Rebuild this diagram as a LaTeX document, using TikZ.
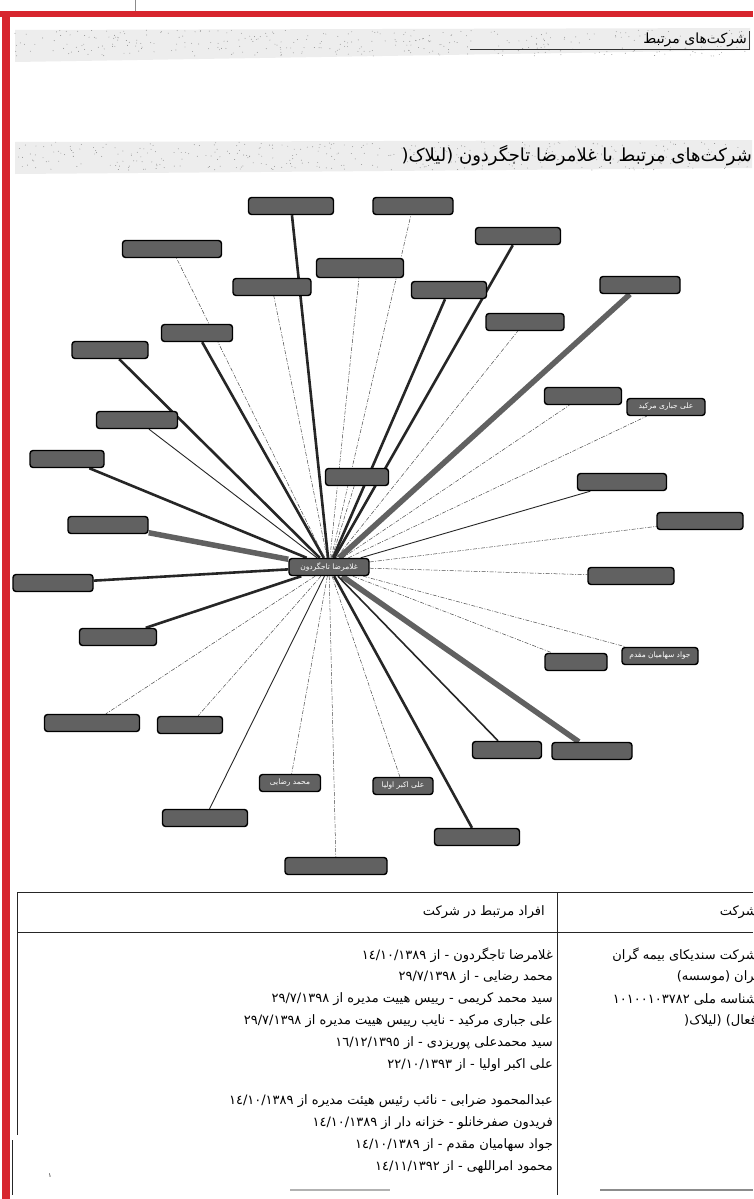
\documentclass[tikz,border=0pt]{standalone}
\usepackage{fontspec}
\newfontfamily\arabicfont[Script=Arabic]{DejaVu Sans}
\TeXXeTstate=1
\usetikzlibrary{backgrounds}
\definecolor{framered}{HTML}{D7262E}
\tikzset{
  person/.style={draw=black,line width=1.4pt,fill=black!62,rounded corners=3pt,
    minimum height=17pt,inner sep=1pt,text=white,
    font=\arabicfont\fontsize{7.5}{9}\selectfont},
  heavy/.style={line width=2.6pt,black!85},
  smudge/.style={line width=5.5pt,black!62},
  faint/.style={line width=0.5pt,black!70,dash pattern=on 4pt off 1.5pt on 1pt off 1.5pt},
  plain/.style={line width=0.9pt,black!85},
  rowtext/.style={anchor=east,inner sep=0pt,font=\arabicfont\fontsize{13}{15}\selectfont},
  headtext/.style={anchor=east,inner sep=0pt,font=\arabicfont\fontsize{14}{16}\selectfont},
  rule/.style={line width=1pt,black!85},
}
\begin{document}
\begin{tikzpicture}[x=1pt,y=-1pt]
\useasboundingbox (0,0) rectangle (753,1199);

% frame of the page
\draw[black!45,line width=1pt] (135,0) -- (135,12);
\fill[framered] (0,11) rectangle (753,17);
\fill[framered] (2,11) rectangle (10,1199);

% scanned headings
\fill[black!7] (15,30) -- (750,28) -- (750,50) -- (15,62) -- cycle;
\fill[black!7] (15,142) -- (752,140) -- (752,168) -- (15,174) -- cycle;
\pgfmathsetseed{7}
\foreach \i in {1,...,350}{
  \fill[black!45] ({15+735*rnd},{30+26*rnd}) circle (0.45pt);
  \fill[black!45] ({15+735*rnd},{142+28*rnd}) circle (0.45pt);
}
\draw[black!80,line width=0.8pt] (470,49) -- (749,49) -- (749,31);
\node[headtext] (head1) at (747,40) {\beginR شرکت‌های مرتبط\endR};
\node[headtext,font=\arabicfont\fontsize{18}{20}\selectfont] (head2) at (752,156)
  {\beginR شرکت‌های مرتبط با غلامرضا تاجگردون (لیلاک(\endR};

% graph
\node[person,minimum width=80pt] (c) at (329,567) {\beginR غلامرضا تاجگردون\endR};
\node[person,minimum width=85pt] (n1) at (291,206) {};
\node[person,minimum width=80pt] (n2) at (413,206) {};
\node[person,minimum width=99pt] (nA) at (172,249) {};
\node[person,minimum width=78pt] (nB) at (272,287) {};
\node[person,minimum width=87pt,minimum height=19pt] (nC) at (360,268) {};
\node[person,minimum width=75pt] (nD) at (449,290) {};
\node[person,minimum width=85pt] (nE) at (518,236) {};
\node[person,minimum width=78pt] (nF) at (525,322) {};
\node[person,minimum width=80pt] (nP) at (640,285) {};
\node[person,minimum width=76pt] (nG) at (110,350) {};
\node[person,minimum width=71pt] (nH) at (197,333) {};
\node[person,minimum width=81pt] (nI) at (137,420) {};
\node[person,minimum width=74pt] (nJ) at (67,459) {};
\node[person,minimum width=80pt] (nK) at (108,525) {};
\node[person,minimum width=80pt] (nL) at (53,583) {};
\node[person,minimum width=77pt] (nM) at (118,637) {};
\node[person,minimum width=63pt] (nN) at (357,477) {};
\node[person,minimum width=77pt] (nQ) at (583,396) {};
\node[person,minimum width=78pt] (nR) at (666,407) {\beginR علی جباری مرکید\endR};
\node[person,minimum width=89pt] (nS) at (622,482) {};
\node[person,minimum width=86pt] (nT) at (700,521) {};
\node[person,minimum width=86pt] (nU) at (631,576) {};
\node[person,minimum width=76pt] (nV) at (660,656) {\beginR جواد سهامیان مقدم\endR};
\node[person,minimum width=62pt] (nW) at (576,662) {};
\node[person,minimum width=69pt] (nX) at (507,750) {};
\node[person,minimum width=80pt] (nY) at (592,751) {};
\node[person,minimum width=60pt] (nZ) at (403,786) {\beginR علی اکبر اولیا\endR};
\node[person,minimum width=85pt] (nAA) at (477,837) {};
\node[person,minimum width=61pt] (nAB) at (290,783) {\beginR محمد رضایی\endR};
\node[person,minimum width=85pt] (nAC) at (205,818) {};
\node[person,minimum width=102pt] (nAD) at (336,866) {};
\node[person,minimum width=95pt] (nAE) at (92,723) {};
\node[person,minimum width=65pt] (nAF) at (190,725) {};

\begin{scope}[on background layer]
\fill[white] (0,0) rectangle (753,1199);
\foreach \n in {n1,nD,nE,nG,nH,nJ,nL,nM,nAA}
  \draw[heavy] (c) -- (\n);
\foreach \n in {nK,nP,nY}
  \draw[smudge] (c) -- (\n);
\foreach \n in {nI,nS,nAC}
  \draw[plain] (c) -- (\n);
\draw[plain,line width=1.6pt] (c) -- (nX);
\foreach \n in {n2,nA,nB,nC,nF,nN,nQ,nR,nT,nU,nV,nW,nZ,nAB,nAD,nAE,nAF}
  \draw[faint] (c) -- (\n);
\end{scope}

% table
\draw[rule] (17,892) -- (753,892);
\draw[rule] (17,932) -- (753,932);
\draw[rule] (17,892) -- (17,1135);
\draw[rule] (12,1140) -- (12,1195);
\draw[rule] (557,892) -- (557,1195);
\draw[black!30,line width=2pt] (290,1190) -- (390,1190);
\draw[black!45,line width=2pt] (600,1190) -- (753,1190);

\node[rowtext] (h1) at (545,912) {\beginR افراد مرتبط در شرکت\endR};
\node[rowtext] (h2) at (757,912) {\beginR شرکت\endR};

\node[rowtext] (p1) at (553,955) {\beginR غلامرضا تاجگردون - از \beginL ١٤/١٠/١٣٨٩\endL{}\endR};
\node[rowtext] (p2) at (553,977) {\beginR محمد رضایی - از \beginL ٢٩/٧/١٣٩٨\endL{}\endR};
\node[rowtext] (p3) at (553,999) {\beginR سید محمد کریمی - رییس هییت مدیره از \beginL ٢٩/٧/١٣٩٨\endL{}\endR};
\node[rowtext] (p4) at (553,1021) {\beginR علی جباری مرکید - نایب رییس هییت مدیره از \beginL ٢٩/٧/١٣٩٨\endL{}\endR};
\node[rowtext] (p5) at (553,1043) {\beginR سید محمدعلی پوریزدی - از \beginL ١٦/١٢/١٣٩٥\endL{}\endR};
\node[rowtext] (p6) at (553,1065) {\beginR علی اکبر اولیا - از \beginL ٢٢/١٠/١٣٩٣\endL{}\endR};
\node[rowtext] (p7) at (553,1101) {\beginR عبدالمحمود ضرابی - نائب رئیس هیئت مدیره از \beginL ١٤/١٠/١٣٨٩\endL{}\endR};
\node[rowtext] (p8) at (553,1123) {\beginR فریدون صفرخانلو - خزانه دار از \beginL ١٤/١٠/١٣٨٩\endL{}\endR};
\node[rowtext] (p9) at (553,1145) {\beginR جواد سهامیان مقدم - از \beginL ١٤/١٠/١٣٨٩\endL{}\endR};
\node[rowtext] (p10) at (553,1167) {\beginR محمود امراللهی - از \beginL ١٤/١١/١٣٩٢\endL{}\endR};

\node[rowtext] (co1) at (757,955) {\beginR شرکت سندیکای بیمه گران\endR};
\node[rowtext] (co2) at (762,977) {\beginR ایران (موسسه)\endR};
\node[rowtext] (co3) at (757,999) {\beginR شناسه ملی \beginL ١٠١٠٠١٠٣٧٨٢\endL{}\endR};
\node[rowtext] (co4) at (762,1021) {\beginR (فعال) (لیلاک(\endR};
\node[font=\arabicfont\fontsize{6}{6}\selectfont] (pg) at (50,1176) {١};
\end{tikzpicture}
\end{document}
